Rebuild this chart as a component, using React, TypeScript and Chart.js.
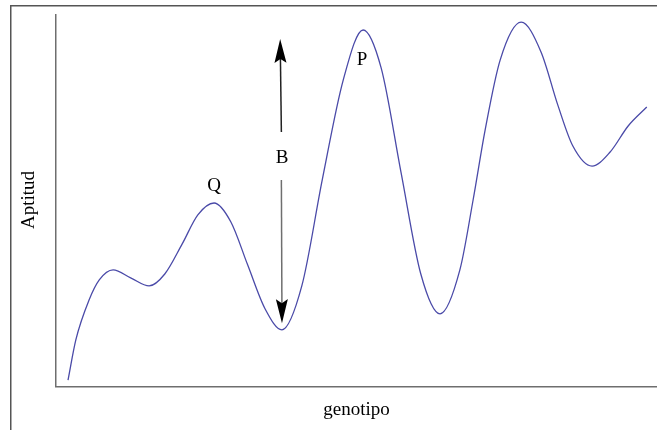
import { useEffect, useRef } from "react";
import { Chart, registerables } from "chart.js";

Chart.register(...registerables);

// Fitness landscape: fitness (aptitud) along a one-dimensional genotype axis.
// Peaks, valleys and points along the flanks between them.
const genotipo = [
  2.0, 3.3, 5.5, 7.2, 9.5, 12.5, 15.5, 18.1, 21.0, 23.6, 26.3, 29.1, 31.9, 34.8,
  37.6, 40.9, 44.3, 47.8, 51.1, 54.1, 57.4, 60.7, 63.9, 67.2, 69.4, 71.4, 73.9,
  77.4, 80.7, 83.5, 86.0, 89.2, 92.2, 95.2, 98.3,
];
const aptitud = [
  1.6, 12.4, 23.1, 28.5, 31.2, 29.0, 26.9, 30.1, 38.2, 46.0, 49.2, 44.1, 32.5, 20.7,
  15.1, 26.9, 55.4, 82.3, 95.7, 85.5, 57.5, 30.1, 19.4, 31.2, 50.0, 68.8, 87.6,
  97.8, 89.8, 75.5, 64.5, 59.1, 62.9, 69.9, 75.0,
];

// Peak labels and the barrier arrow (B), in data units.
const peakLabels = ["Q", "P", "B"];
const peakLabelX = [26.3, 50.9, 37.6];
const peakLabelY = [53.8, 87.6, 61.3];

const arrowFromX = [37.5, 37.5];
const arrowFromY = [68.3, 55.4];
const arrowToX = [37.3, 37.6];
const arrowToY = [93.3, 16.9];
const arrowColor = ["#222222", "#6f6f6f"];

const xTitle = "genotipo";
const yTitle = "Aptitud";

const SERIF = "'Liberation Serif', 'Times New Roman', serif";

function drawArrow(
  ctx: CanvasRenderingContext2D,
  x0: number,
  y0: number,
  x1: number,
  y1: number,
  color: string
) {
  const ang = Math.atan2(y1 - y0, x1 - x0);
  const headLen = 24;
  const headHalf = 6;
  const notch = 4;
  const ux = Math.cos(ang);
  const uy = Math.sin(ang);
  const px = -uy;
  const py = ux;
  const bx = x1 - ux * headLen;
  const by = y1 - uy * headLen;

  ctx.save();
  ctx.strokeStyle = color;
  ctx.lineWidth = 1.5;
  ctx.beginPath();
  ctx.moveTo(x0, y0);
  ctx.lineTo(bx + ux * notch, by + uy * notch);
  ctx.stroke();

  ctx.fillStyle = "#000000";
  ctx.beginPath();
  ctx.moveTo(x1, y1);
  ctx.lineTo(bx + px * headHalf, by + py * headHalf);
  ctx.lineTo(bx + ux * notch, by + uy * notch);
  ctx.lineTo(bx - px * headHalf, by - py * headHalf);
  ctx.closePath();
  ctx.fill();
  ctx.restore();
}

const decorations = {
  id: "landscapeDecorations",
  afterDraw(chart: Chart) {
    const { ctx, chartArea, scales } = chart;
    const xs = scales.x;
    const ys = scales.y;
    const W = chart.width;
    const H = chart.height;

    ctx.save();

    // outer frame (top and left edges)
    ctx.strokeStyle = "#555555";
    ctx.lineWidth = 1.5;
    ctx.beginPath();
    ctx.moveTo(10.75, H);
    ctx.lineTo(10.75, 5.75);
    ctx.lineTo(W, 5.75);
    ctx.stroke();

    // axes
    ctx.strokeStyle = "#6e6e6e";
    ctx.lineWidth = 1.5;
    ctx.beginPath();
    ctx.moveTo(chartArea.left - 0.25, chartArea.top);
    ctx.lineTo(chartArea.left - 0.25, chartArea.bottom + 0.75);
    ctx.lineTo(W, chartArea.bottom + 0.75);
    ctx.stroke();

    // axis titles
    ctx.fillStyle = "#000000";
    ctx.font = `19px ${SERIF}`;
    ctx.textAlign = "center";
    ctx.textBaseline = "middle";
    ctx.fillText(xTitle, (chartArea.left + W) / 2, 410);

    ctx.save();
    ctx.translate(29, (chartArea.top + chartArea.bottom) / 2);
    ctx.rotate(-Math.PI / 2);
    ctx.fillText(yTitle, 0, 0);
    ctx.restore();

    // arrows
    for (let i = 0; i < arrowFromX.length; i++) {
      drawArrow(
        ctx,
        xs.getPixelForValue(arrowFromX[i]),
        ys.getPixelForValue(arrowFromY[i]),
        xs.getPixelForValue(arrowToX[i]),
        ys.getPixelForValue(arrowToY[i]),
        arrowColor[i]
      );
    }

    // peak labels
    ctx.font = `19px ${SERIF}`;
    for (let i = 0; i < peakLabels.length; i++) {
      ctx.fillText(
        peakLabels[i],
        xs.getPixelForValue(peakLabelX[i]),
        ys.getPixelForValue(peakLabelY[i])
      );
    }

    ctx.restore();
  },
};

export default function App() {
  const canvasRef = useRef<HTMLCanvasElement | null>(null);

  useEffect(() => {
    const canvas = canvasRef.current;
    if (!canvas) return;
    const chart = new Chart(canvas, {
      type: "line",
      data: {
        datasets: [
          {
            data: genotipo.map((x, i) => ({ x, y: aptitud[i] })),
            borderColor: "#4a4aa8",
            borderWidth: 1.3,
            pointRadius: 0,
            fill: false,
            cubicInterpolationMode: "monotone",
          },
        ],
      },
      options: {
        responsive: false,
        animation: false,
        devicePixelRatio: 1,
        layout: { padding: { left: 56, top: 14, right: 0, bottom: 44 } },
        scales: {
          x: { type: "linear", min: 0, max: 100, display: false },
          y: { type: "linear", min: 0, max: 100, display: false },
        },
        plugins: {
          legend: { display: false },
          tooltip: { enabled: false },
        },
      },
      plugins: [decorations],
    });
    return () => chart.destroy();
  }, []);

  return (
    <div
      style={{
        position: "fixed",
        left: 0,
        top: 0,
        width: 657,
        height: 430,
        background: "#ffffff",
      }}
    >
      <canvas ref={canvasRef} width={657} height={430} />
    </div>
  );
}
